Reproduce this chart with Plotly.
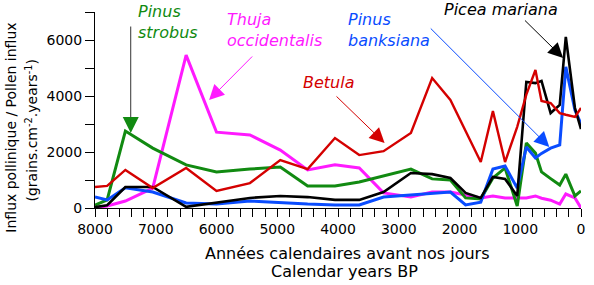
import plotly.graph_objects as go

ages = [8000, 7800, 7500, 7050, 6500, 6000, 5450, 4950, 4500, 4050, 3650, 3250, 2800, 2450,
        2150, 1900, 1650, 1450, 1250, 1050, 900, 750, 650, 500, 350, 250, 100, 0]

betula = [750, 790, 1360, 710, 1430, 610, 890, 1710, 1390, 2500, 1890, 2030, 2680, 4640,
          3860, 2750, 1640, 3460, 1640, 2900, 4050, 4930, 3820, 3750, 3390, 3330, 3250, 3570]
picea = [30, 100, 750, 750, 40, 180, 360, 430, 390, 290, 290, 570, 1250, 1210,
         1070, 540, 360, 1110, 1040, 430, 4500, 4460, 4540, 3390, 3680, 6110, 3570, 2820]
banksiana = [390, 290, 720, 570, 180, 140, 250, 180, 140, 110, 110, 390, 460, 540,
             570, 110, 210, 1390, 1500, 710, 2180, 1790, 1950, 2140, 2250, 5040, 3500, 3000]
strobus = [100, 290, 2750, 2140, 1540, 1290, 1390, 1460, 790, 790, 930, 1140, 1390, 1040,
           1000, 360, 320, 1070, 1430, 70, 2320, 1960, 1290, 1050, 820, 1210, 430, 610]
thuja = [0, 70, 250, 710, 5460, 2710, 2610, 2070, 1360, 1540, 1430, 540, 390, 570,
         570, 460, 360, 430, 360, 360, 360, 430, 350, 280, 140, 500, 360, 0]

x_ticks = [8000, 7000, 6000, 5000, 4000, 3000, 2000, 1000, 0]
y_ticks = [0, 2000, 4000, 6000]

RED = "#d40000"
BLACK = "#000000"
BLUE = "#0a4cff"
GREEN = "#118a11"
MAGENTA = "#ff1aff"

FONT = "DejaVu Sans"

fig = go.Figure()
for vals, col, w in [(thuja, MAGENTA, 3), (strobus, GREEN, 3), (banksiana, BLUE, 3),
                     (picea, BLACK, 2.6), (betula, RED, 2.4)]:
    fig.add_trace(go.Scatter(x=ages, y=vals, mode="lines",
                             line=dict(color=col, width=w), showlegend=False))

L, T, W, H = 95, 12, 490, 196


def px(p):
    return (p - L) / W


def py(p):
    return (T + H - p) / H


ann = []


def label(text, x, y, col, size=16):
    ann.append(dict(text="<i>" + text + "</i>", x=px(x), y=py(y), xref="paper", yref="paper",
                    xanchor="left", yanchor="top", showarrow=False, align="left",
                    font=dict(family=FONT, size=size, color=col)))


def arrow(x, y, ax, ay, col, head=2, size=3.0):
    ann.append(dict(text="", x=x, y=y, ax=ax, ay=ay, xref="x", yref="y", axref="x", ayref="y",
                    showarrow=True, arrowhead=head, arrowsize=size, arrowwidth=1,
                    arrowcolor=col, standoff=0))


label("Pinus<br>strobus", 136, 0, GREEN)
label("Thuja<br>occidentalis", 226, 8, MAGENTA)
label("Betula", 303, 71, RED)
label("Pinus<br>banksiana", 348, 8, BLUE)
label("Picea mariana", 445, -2, BLACK)

# arrows
arrow(7412, 3000, 7412, 6535, "#333333", head=0, size=1)
arrow(7412, 2680, 7412, 3150, GREEN, size=3.2)
arrow(6122, 3857, 5388, 5464, MAGENTA)
arrow(3233, 2321, 4049, 4036, RED)
arrow(522, 2179, 2498, 6464, BLUE)
arrow(294, 5357, 947, 6750, BLACK)


def title(text, x, y, size, angle=0):
    ann.append(dict(text=text, x=px(x), y=py(y), xref="paper", yref="paper",
                    xanchor="center", yanchor="middle", textangle=angle, showarrow=False,
                    font=dict(family=FONT, size=size, color="black")))


title("Influx pollinique / Pollen influx", 10, 128, 14, -90)
title("(grains.cm<sup>-2</sup>.years<sup>-1</sup>)", 31, 130, 14, -90)
title("Années calendaires avant nos jours", 349, 253, 16)
title("Calendar years BP", 347, 271, 16)

fig.update_layout(
    width=594, height=285,
    margin=dict(l=L, r=594 - L - W, t=T, b=285 - T - H, pad=0),
    paper_bgcolor="white", plot_bgcolor="white",
    annotations=ann,
    xaxis=dict(range=[8000, 0], tickvals=x_ticks, ticks="outside", ticklen=8, tickcolor="black",
               showline=True, linecolor="black", linewidth=1, showgrid=False, zeroline=False,
               tickfont=dict(family=FONT, size=14, color="black"),
               minor=dict(dtick=200, ticks="outside", ticklen=8, tickcolor="black", showgrid=False)),
    yaxis=dict(range=[0, 7000], tickvals=y_ticks, ticks="outside", ticklen=9, tickcolor="black",
               showline=True, linecolor="black", linewidth=1, showgrid=False, zeroline=False,
               tickfont=dict(family=FONT, size=14, color="black"),
               minor=dict(dtick=1000, ticks="outside", ticklen=9, tickcolor="black", showgrid=False)),
)

fig.write_html("out.html")
